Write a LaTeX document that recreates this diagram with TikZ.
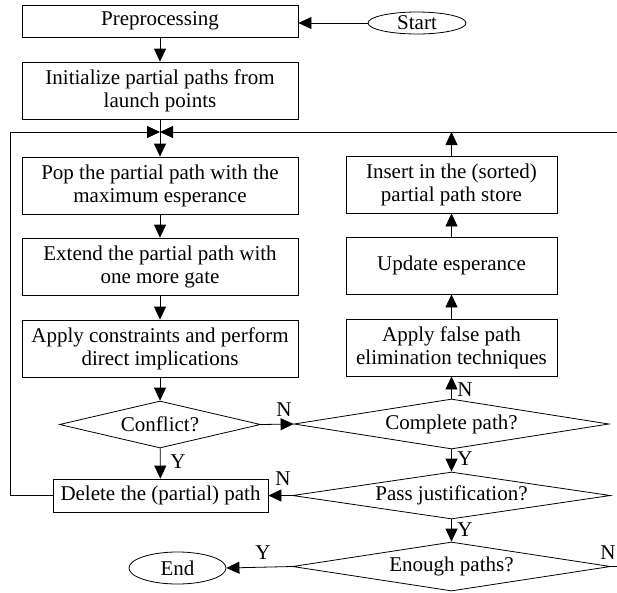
\documentclass[tikz,border=0pt]{standalone}
\usepackage{fontspec}
\setmainfont{Liberation Serif}
\usetikzlibrary{shapes.geometric,arrows.meta}
\begin{document}
\begin{tikzpicture}[x=1pt,y=-1pt,
  every node/.style={font=\fontsize{21}{23}\selectfont},
  box/.style={draw,line width=0.8pt,inner sep=0pt,align=center},
  lbox/.style={box,minimum width=276pt},
  rbox/.style={box,minimum width=211pt},
  dia/.style={draw,line width=0.8pt,diamond,inner sep=0pt,aspect=6},
  term/.style={draw,line width=0.8pt,ellipse,inner sep=0pt},
  lab/.style={inner sep=0pt},
  arr/.style={line width=0.8pt,-{Triangle[length=13pt,width=12pt]}},
  ln/.style={line width=0.8pt}]
\useasboundingbox (0,0) rectangle (617,592);
% left column
\node[lbox,minimum height=32pt] (pre) at (160,21) {Preprocessing};
\node[lbox,minimum height=57pt] (init) at (160,90.5) {Initialize partial paths from\\launch points};
\node[lbox,minimum height=57pt] (pop) at (160,185.5) {Pop the partial path with the\\maximum esperance};
\node[lbox,minimum height=57pt] (ext) at (160,266.5) {Extend the partial path with\\one more gate};
\node[lbox,minimum height=57pt] (appc) at (160,348.5) {Apply constraints and perform\\direct implications};
\node[dia,minimum width=201pt,minimum height=47pt] (conf) at (160,424.5) {Conflict?};
\node[box,minimum width=215pt,minimum height=33pt] (del) at (160.5,495.5) {Delete the (partial) path};
% right column
\node[rbox,minimum height=57pt] (ins) at (451.5,184.5) {Insert in the (sorted)\\partial path store};
\node[rbox,minimum height=57pt] (upd) at (451.5,265.5) {Update esperance};
\node[rbox,minimum height=57pt] (appf) at (451.5,347.5) {Apply false path\\elimination techniques};
\node[dia,minimum width=315pt,minimum height=50pt] (comp) at (451.5,424) {Complete path?};
\node[dia,minimum width=318pt,minimum height=47pt] (pass) at (451.5,495.5) {Pass justification?};
\node[dia,minimum width=318pt,minimum height=49pt] (enough) at (451.5,566.5) {Enough paths?};
% terminals
\node[term,minimum width=98pt,minimum height=22pt] (start) at (417,23) {Start};
\node[term,minimum width=97pt,minimum height=32pt] (end) at (177.5,568) {End};
% merge point
\coordinate (merge) at (160,132);
\coordinate (lc) at (10.5,132);
\coordinate (rc) at (617.5,132);
% connectors
\draw[arr] (start.west) -- (start.west -| pre.east);
\draw[arr] (pre) -- (init);
\draw[ln] (init.south) -- (merge);
\draw[arr] (merge) -- (pop.north);
\draw[arr] (pop) -- (ext);
\draw[arr] (ext) -- (appc);
\draw[arr] (appc) -- (conf);
\draw[arr] (conf) -- (del);
\draw[arr] (conf.east) -- (comp.west);
\draw[arr] (comp.north) -- (appf.south);
\draw[arr] (appf) -- (upd);
\draw[arr] (upd) -- (ins);
\draw[arr] (ins.north) -- (ins.north |- merge);
\draw[arr] (comp.south) -- (pass.north);
\draw[arr] (pass.west) -- (del.east);
\draw[arr] (pass.south) -- (enough.north);
\draw[arr] (enough.west) -- (end.east);
\draw[arr] (del.west) -- (del.west -| lc) -- (lc) -- (merge);
\draw[arr] (enough.east) -- (enough.east -| rc) -- (rc) -- (merge);
% labels
\node[lab] (n1) at (284,410) {N};
\node[lab] (n2) at (465,390) {N};
\node[lab] (y1) at (178,462) {Y};
\node[lab] (y2) at (465,459) {Y};
\node[lab] (n3) at (283,479) {N};
\node[lab] (y3) at (465,530) {Y};
\node[lab] (y4) at (263,553) {Y};
\node[lab] (n4) at (608,553) {N};
\end{tikzpicture}
\end{document}
